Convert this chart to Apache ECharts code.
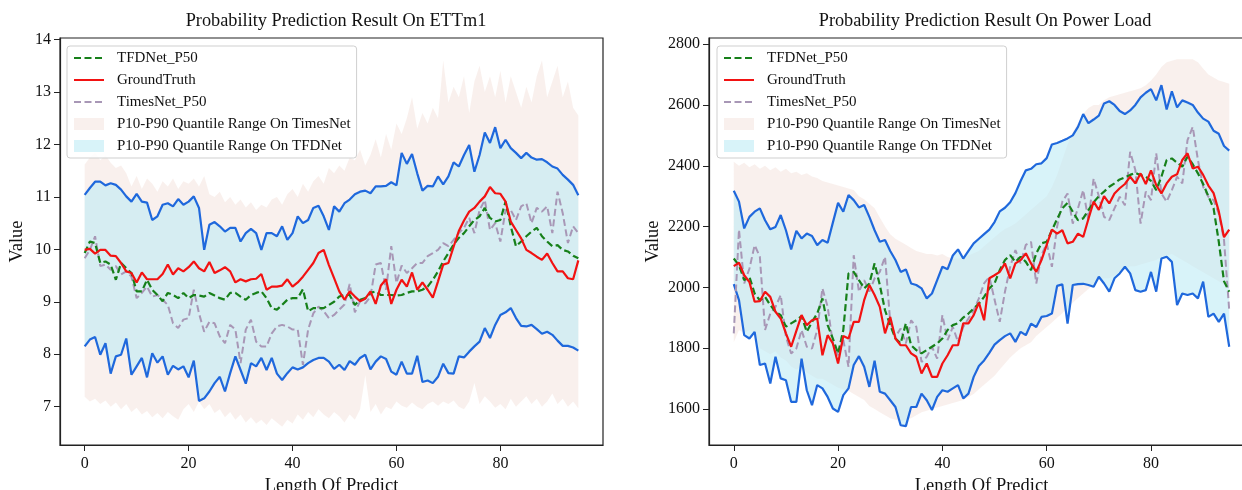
<!DOCTYPE html>
<html>
<head>
<meta charset="utf-8">
<script src="https://cdn.jsdelivr.net/npm/echarts@6/dist/echarts.min.js"></script>
<style>
  html, body { margin: 0; padding: 0; background: #fff; }
  #chart { width: 1242px; height: 490px; }
</style>
</head>
<body>
<div id="chart"></div>
<script>
// ---------- ETTm1 ----------
const ettTfdP50 = [9.93,10.15,10.12,9.74,9.77,9.71,9.42,9.74,9.64,9.55,9.20,9.20,9.42,9.23,9.13,9.01,9.17,9.13,9.07,9.17,9.07,9.13,9.12,9.10,9.17,9.12,9.07,9.04,9.17,9.17,9.10,9.04,9.13,9.17,9.20,9.07,8.88,8.85,8.94,9.04,9.07,9.07,9.24,8.82,8.88,8.88,8.88,8.94,9.00,9.10,9.13,9.13,8.94,9.04,9.07,9.17,9.20,9.13,9.13,9.13,9.12,9.13,9.17,9.20,9.20,9.23,9.29,9.42,9.58,9.77,9.93,10.09,10.22,10.31,10.44,10.56,10.63,10.79,10.60,10.53,10.56,10.91,10.44,10.06,10.15,10.25,10.34,10.41,10.25,10.15,10.06,10.08,9.99,9.96,9.88,9.83];
const ettTruth = [9.99,10.01,9.92,9.99,9.99,9.88,9.87,9.74,9.58,9.55,9.37,9.56,9.43,9.43,9.43,9.53,9.71,9.52,9.64,9.58,9.66,9.77,9.64,9.58,9.76,9.55,9.60,9.66,9.58,9.37,9.43,9.39,9.43,9.44,9.53,9.23,9.29,9.29,9.31,9.43,9.29,9.37,9.48,9.61,9.74,9.93,9.99,9.70,9.45,9.20,9.04,9.20,9.10,9.01,9.06,9.20,8.96,9.31,9.43,8.96,9.23,9.42,9.29,9.56,9.23,9.37,9.23,9.08,9.39,9.71,9.74,10.05,10.35,10.55,10.72,10.79,10.91,11.01,11.19,11.07,11.06,10.91,10.53,10.37,10.21,9.99,9.93,9.86,9.80,9.92,9.74,9.58,9.58,9.45,9.43,9.79];
const ettTimesP50 = [9.83,9.99,10.25,9.68,9.71,9.61,9.68,9.52,9.58,9.48,9.07,9.17,9.29,9.10,9.13,9.04,8.94,8.59,8.50,8.66,8.69,9.23,8.78,8.43,8.62,8.59,8.34,8.21,8.56,8.47,7.83,8.47,8.66,8.24,8.15,8.15,8.40,8.53,8.56,8.53,8.47,8.47,7.80,8.47,8.78,8.91,8.82,8.69,8.75,8.85,8.95,9.34,8.80,9.01,8.97,9.10,9.71,9.74,9.23,10.06,9.36,9.69,9.55,9.64,9.74,9.74,9.87,9.93,9.99,10.12,10.06,10.18,10.31,10.41,10.60,10.31,10.75,10.94,10.37,10.50,10.15,10.75,10.75,10.56,10.82,10.88,10.50,10.79,10.72,10.82,10.31,11.10,10.69,10.12,10.44,10.31];
const ettTfdP10 = [8.15,8.28,8.33,7.99,8.21,7.63,7.96,7.99,8.30,7.61,7.77,7.93,7.56,8.02,7.84,7.96,7.61,7.78,7.71,7.77,7.56,7.88,7.11,7.16,7.29,7.45,7.57,7.29,7.64,7.96,7.70,7.44,7.83,7.77,7.93,7.70,7.93,7.63,7.51,7.64,7.75,7.71,7.75,7.83,7.89,7.93,7.93,7.86,7.72,7.80,7.70,7.87,7.80,7.93,7.99,7.71,7.86,7.96,7.91,7.67,7.61,7.86,7.63,7.63,7.97,7.47,7.50,7.45,7.57,7.82,7.64,7.63,7.96,7.94,8.05,8.15,8.24,8.50,8.31,8.56,8.75,8.80,8.88,8.69,8.54,8.53,8.56,8.48,8.39,8.43,8.37,8.26,8.16,8.16,8.13,8.07];
const ettTfdP90 = [11.04,11.17,11.29,11.29,11.22,11.26,11.23,11.14,11.01,10.91,11.06,10.91,10.89,10.56,10.63,10.85,10.88,10.82,10.96,10.85,10.91,11.01,10.79,9.99,10.47,10.52,10.44,10.34,10.41,10.41,10.15,10.31,10.39,10.31,9.99,10.31,10.31,10.25,10.44,10.18,10.31,10.63,10.50,10.56,10.79,10.83,10.63,10.37,10.82,10.72,10.88,10.95,11.05,11.10,11.12,11.07,11.20,11.20,11.21,11.28,11.22,11.84,11.63,11.82,11.45,11.12,11.21,11.20,11.39,11.24,11.39,11.66,11.58,11.80,11.99,11.48,11.80,12.23,12.03,12.33,11.93,12.09,11.93,11.84,11.74,11.84,11.75,11.71,11.72,11.66,11.58,11.54,11.42,11.33,11.23,11.03];
const ettTimesP10 = [7.19,7.10,7.15,7.05,7.12,7.00,7.08,6.95,7.05,6.90,6.98,6.85,6.92,6.80,6.88,6.78,6.90,6.82,6.75,6.95,7.05,6.90,7.10,6.95,7.05,6.88,6.95,6.80,6.90,6.75,6.85,6.70,6.80,6.68,6.75,6.65,6.78,6.70,6.62,6.75,6.68,6.85,6.75,6.90,6.80,6.95,6.85,6.78,6.90,6.82,6.70,6.85,6.75,6.95,7.60,6.90,7.05,6.85,7.00,6.95,7.10,7.02,6.98,7.08,7.00,6.95,7.05,7.10,7.02,7.10,7.05,7.12,7.00,6.95,7.10,7.45,7.05,7.20,7.10,6.98,7.05,6.95,7.15,7.00,7.10,7.20,7.05,7.15,7.00,7.10,7.25,7.05,7.15,7.00,7.10,6.97];
const ettTimesP90 = [11.62,11.75,11.85,11.70,11.80,11.65,11.55,11.60,11.45,11.20,11.40,11.15,11.35,11.25,11.10,11.30,11.20,11.35,11.15,11.30,11.25,11.35,11.20,11.40,11.05,11.00,11.10,10.90,11.00,10.85,10.95,10.80,10.90,10.75,10.85,10.80,10.95,11.00,10.85,11.05,11.15,11.00,11.25,11.10,11.30,11.40,11.25,11.55,11.45,11.60,11.50,11.75,11.70,11.90,11.60,11.80,12.10,11.75,12.20,11.90,12.40,12.20,12.50,12.90,12.30,12.60,12.40,12.70,12.50,13.60,12.80,13.10,12.90,13.30,12.60,13.20,13.50,13.00,13.30,12.90,13.40,12.80,13.30,13.00,12.70,13.10,12.80,13.30,13.60,12.90,13.20,13.50,12.90,13.20,12.70,12.55];

// ---------- Power Load ----------
const loadTfdP50 = [2095,2073,2024,2035,1980,1958,1969,1942,1920,1909,1871,1882,1892,1906,1854,1887,1914,1964,1876,1832,1783,1860,2046,2051,2024,1997,2013,2079,2008,1925,1876,1832,1816,1882,1810,1794,1783,1794,1805,1816,1832,1860,1876,1882,1901,1914,1931,1947,1969,1997,2013,2057,2090,2106,2084,2101,2084,2057,2112,2145,2150,2188,2225,2260,2278,2249,2221,2227,2254,2280,2300,2315,2331,2342,2355,2362,2370,2377,2369,2364,2350,2320,2364,2419,2424,2410,2397,2430,2405,2375,2340,2300,2260,2150,2020,1986];
const loadTruth = [2070,2081,2040,2018,1953,1955,1986,1969,1920,1898,1849,1805,1857,1909,1876,1892,1898,1777,1843,1816,1750,1840,1832,1887,1887,1958,2008,1975,1936,1849,1903,1832,1810,1810,1783,1772,1717,1750,1706,1706,1750,1777,1810,1810,1882,1882,1909,1950,1892,2030,2040,2051,2079,2030,2079,2090,2112,2079,2051,2090,2140,2190,2177,2188,2145,2150,2177,2166,2225,2282,2255,2300,2276,2309,2326,2340,2364,2342,2375,2340,2385,2336,2309,2342,2364,2372,2419,2441,2391,2397,2370,2335,2310,2250,2165,2190];
const loadTimesP50 = [1849,2190,2013,2062,2139,2101,1860,1914,1936,1975,1838,1783,1799,1860,1805,1799,1860,1997,1936,1816,1777,1827,1739,2106,1986,2024,1986,2030,2051,2101,1887,1838,1865,1816,1892,1870,1755,1772,1805,1766,1909,1827,1870,1821,1870,1898,1925,1964,2013,2035,1960,1887,1986,2068,2123,2079,2140,2150,2013,2106,2145,2068,2200,2282,2309,2210,2260,2320,2221,2358,2300,2232,2221,2260,2298,2270,2446,2386,2210,2315,2287,2441,2309,2282,2320,2364,2342,2484,2528,2419,2331,2298,2287,2243,2156,1925];
const loadTfdP10 = [2011,1958,1843,1832,1854,1745,1750,1684,1772,1701,1695,1624,1624,1766,1662,1613,1679,1668,1640,1602,1591,1646,1668,1745,1774,1739,1673,1759,1657,1651,1629,1607,1547,1544,1607,1607,1651,1629,1597,1640,1662,1657,1668,1679,1635,1651,1706,1742,1760,1785,1812,1827,1840,1849,1821,1854,1843,1881,1870,1903,1906,1914,2005,2010,1881,2008,2011,2012,2008,2002,2035,2013,1986,2030,2046,2068,2046,1991,1986,1991,2051,1986,2095,2101,2084,1942,1980,1975,1980,1964,2019,1903,1914,1887,1914,1805];
const loadTfdP90 = [2318,2282,2194,2232,2249,2260,2221,2191,2199,2238,2188,2125,2186,2161,2177,2169,2139,2156,2147,2213,2278,2249,2304,2287,2263,2271,2232,2188,2150,2156,2120,2090,2051,2059,2013,2008,1997,1964,1980,2024,2068,2060,2105,2125,2095,2120,2145,2160,2175,2190,2215,2250,2262,2280,2310,2350,2385,2390,2405,2408,2425,2470,2475,2482,2490,2500,2528,2570,2540,2552,2565,2605,2612,2600,2580,2570,2582,2600,2625,2640,2652,2615,2665,2585,2645,2592,2615,2608,2600,2575,2555,2545,2515,2505,2465,2450];
const loadTimesP10 = [1820,1860,1850,1860,1850,1800,1790,1780,1790,1770,1760,1740,1730,1740,1720,1710,1700,1700,1690,1680,1670,1665,1660,1650,1640,1630,1610,1600,1590,1580,1570,1565,1560,1565,1570,1580,1590,1595,1600,1605,1610,1615,1620,1625,1630,1640,1650,1665,1680,1695,1710,1730,1750,1770,1785,1800,1810,1820,1840,1855,1870,1885,1900,1915,1935,1950,1965,1980,1995,2010,2025,2030,2030,2040,2050,2060,2070,2070,2075,2080,2085,2090,2100,2105,2110,2100,2090,2080,2070,2060,2050,2040,2030,2020,2010,2000];
const loadTimesP90 = [2413,2400,2410,2395,2405,2390,2400,2385,2395,2380,2390,2375,2380,2370,2375,2365,2360,2350,2345,2340,2335,2330,2325,2320,2300,2290,2275,2260,2230,2200,2175,2160,2150,2140,2130,2120,2115,2110,2110,2105,2110,2100,2095,2095,2098,2105,2112,2120,2135,2150,2165,2180,2192,2200,2210,2225,2240,2255,2270,2285,2300,2330,2370,2420,2470,2510,2540,2570,2590,2600,2600,2615,2625,2630,2635,2640,2645,2650,2655,2665,2680,2700,2725,2740,2745,2750,2750,2750,2750,2740,2720,2700,2690,2680,2675,2670];

// ---------- tick labels ----------
const xTicks = [0, 20, 40, 60, 80];
const ettYTicks = [7, 8, 9, 10, 11, 12, 13, 14];
const loadYTicks = [1600, 1800, 2000, 2200, 2400, 2600, 2800];

const titles = ['Probability Prediction Result On ETTm1', 'Probability Prediction Result On Power Load'];
const legendNames = ['TFDNet_P50', 'GroundTruth', 'TimesNet_P50',
  'P10-P90 Quantile Range On TimesNet', 'P10-P90 Quantile Range On TFDNet'];

// ---------- styling ----------
const FONT = 'Liberation Serif';
const C = {
  green: '#17801a',
  red: '#f21212',
  grey: '#a897b6',
  blue: '#1f68dc',
  pinkBand: 'rgba(235,200,190,0.28)',
  cyanBand: 'rgba(190,235,245,0.6)',
  frame: '#222'
};

const pairs = arr => arr.map((v, i) => [i, v]);

// filled quantile range drawn as one polygon through the axis scales
function bandSeries(name, g, lo, hi, color) {
  return {
    type: 'custom', name, xAxisIndex: g, yAxisIndex: g,
    data: lo.map((v, i) => [i, v, hi[i]]),
    encode: { x: 0, y: [1, 2] },
    itemStyle: { color },
    silent: true, clip: true, z: 1,
    renderItem(params, api) {
      if (params.dataIndex !== 0) return null;
      const top = hi.map((v, i) => api.coord([i, v]));
      const bottom = lo.map((v, i) => api.coord([i, v])).reverse();
      return { type: 'polygon', shape: { points: top.concat(bottom) }, style: { fill: color } };
    }
  };
}

function lineSeries(name, g, arr, color, width, dash, z) {
  return {
    type: 'line', name, xAxisIndex: g, yAxisIndex: g,
    data: pairs(arr), symbol: 'none', z,
    lineStyle: { color, width, type: dash || 'solid' },
    itemStyle: { color }
  };
}

function plotSeries(g, d) {
  return [
    bandSeries('P10-P90 Quantile Range On TimesNet', g, d.timesP10, d.timesP90, C.pinkBand),
    bandSeries('P10-P90 Quantile Range On TFDNet', g, d.tfdP10, d.tfdP90, C.cyanBand),
    lineSeries('TFDNet_P10', g, d.tfdP10, C.blue, 2.2, null, 3),
    lineSeries('TFDNet_P90', g, d.tfdP90, C.blue, 2.2, null, 3),
    lineSeries('TimesNet_P50', g, d.timesP50, C.grey, 2, [7, 3.5], 4),
    lineSeries('TFDNet_P50', g, d.tfdP50, C.green, 2.2, [7, 3.5], 5),
    lineSeries('GroundTruth', g, d.truth, C.red, 2.2, null, 6)
  ];
}

const grids = [
  { left: 60, top: 38, width: 543, height: 407 },
  { left: 709, top: 38, width: 545, height: 407 }
];

function xAxis(g) {
  return {
    gridIndex: g, type: 'value', min: -4.75, max: 99.75,
    name: 'Length Of Predict', nameLocation: 'middle', nameGap: 29,
    nameTextStyle: { fontFamily: FONT, fontSize: 18.5, color: '#111' },
    axisLine: { show: true, onZero: false, lineStyle: { color: C.frame, width: 1.2 } },
    axisTick: { show: true, inside: false, length: 6, customValues: xTicks, lineStyle: { color: C.frame, width: 1 } },
    axisLabel: { customValues: xTicks, margin: 11, fontFamily: FONT, fontSize: 16, color: '#111' },
    splitLine: { show: false }
  };
}

function yAxis(g, min, max, ticks, gap) {
  return {
    gridIndex: g, type: 'value', min, max,
    name: 'Value', nameLocation: 'middle', nameGap: gap, nameRotate: 90,
    nameTextStyle: { fontFamily: FONT, fontSize: 18.5, color: '#111' },
    axisLine: { show: true, onZero: false, lineStyle: { color: C.frame, width: 1.2 } },
    axisTick: { show: true, inside: false, length: 6, customValues: ticks, lineStyle: { color: C.frame, width: 1 } },
    axisLabel: { customValues: ticks, margin: 9, fontFamily: FONT, fontSize: 16, color: '#111', formatter: v => String(v) },
    splitLine: { show: false }
  };
}

// line entries show only the stroke sample, no marker
const hiddenMarker = { color: 'rgba(0,0,0,0)', borderColor: 'rgba(0,0,0,0)', borderWidth: 0, opacity: 0 };

function legend(left) {
  return {
    left, top: 46, orient: 'vertical',
    padding: [4, 6, 4, 6], itemGap: 6, itemWidth: 30, itemHeight: 12,
    backgroundColor: 'rgba(255,255,255,0.85)', borderColor: '#cfcfcf', borderWidth: 1, borderRadius: 3,
    textStyle: { fontFamily: FONT, fontSize: 15, color: '#111', lineHeight: 16, padding: [0, 0, 0, 8] },
    selectedMode: false,
    data: [
      { name: legendNames[0], itemStyle: hiddenMarker },
      { name: legendNames[1], itemStyle: hiddenMarker },
      { name: legendNames[2], itemStyle: hiddenMarker },
      { name: legendNames[3], icon: 'rect', itemStyle: { color: C.pinkBand } },
      { name: legendNames[4], icon: 'rect', itemStyle: { color: C.cyanBand } }
    ]
  };
}

const ett = { tfdP50: ettTfdP50, truth: ettTruth, timesP50: ettTimesP50, tfdP10: ettTfdP10, tfdP90: ettTfdP90, timesP10: ettTimesP10, timesP90: ettTimesP90 };
const load = { tfdP50: loadTfdP50, truth: loadTruth, timesP50: loadTimesP50, tfdP10: loadTfdP10, tfdP90: loadTfdP90, timesP10: loadTimesP10, timesP90: loadTimesP90 };

const titleStyle = { fontFamily: FONT, fontSize: 18.3, fontWeight: 'normal', color: '#111' };

const option = {
  animation: false,
  backgroundColor: '#fff',
  textStyle: { fontFamily: FONT },
  title: [
    { text: titles[0], left: 331, top: 7, textAlign: 'center', textStyle: titleStyle },
    { text: titles[1], left: 980, top: 7, textAlign: 'center', textStyle: titleStyle }
  ],
  // fixed plot boxes; the axis titles are allowed to run past the canvas edge
  grid: grids.map(g => Object.assign({
    show: true, borderColor: C.frame, borderWidth: 1.2, backgroundColor: 'transparent',
    containLabel: false, outerBoundsMode: 'none'
  }, g)),
  xAxis: [xAxis(0), xAxis(1)],
  yAxis: [yAxis(0, 6.27, 14.03, ettYTicks, 33), yAxis(1, 1482, 2820, loadYTicks, 46)],
  legend: [legend(67), legend(717)],
  series: plotSeries(0, ett).concat(plotSeries(1, load))
};

const chart = echarts.init(document.getElementById('chart'), null, { renderer: 'canvas' });
chart.setOption(option);
</script>
</body>
</html>
